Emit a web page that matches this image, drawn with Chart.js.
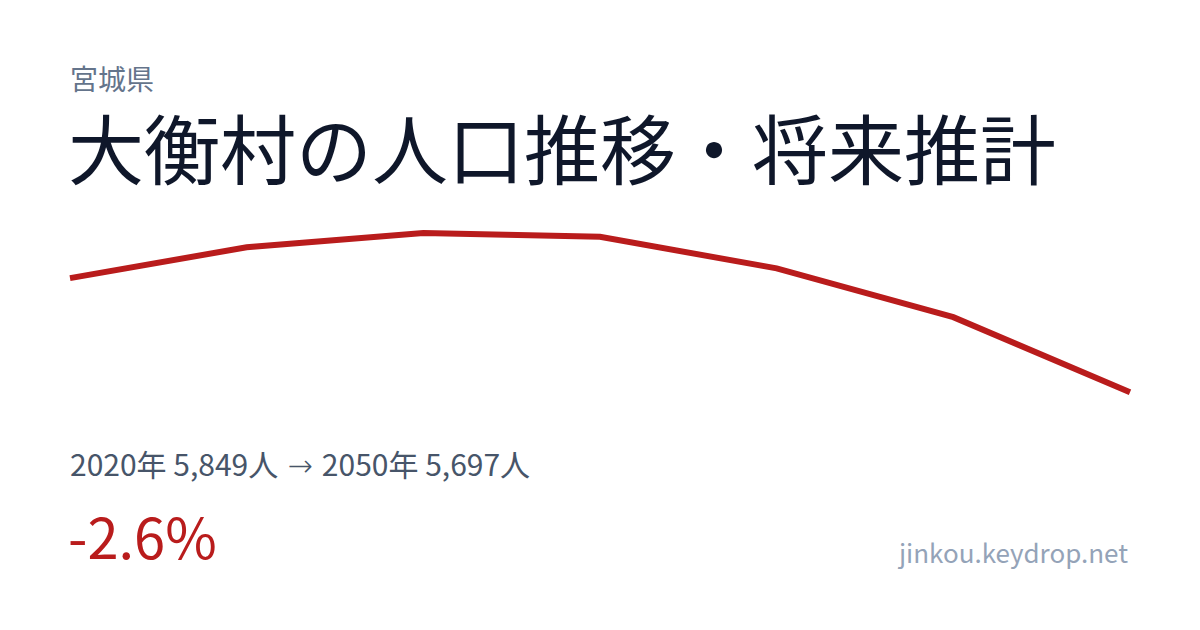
<!DOCTYPE html>
<html lang="ja">
<head>
<meta charset="utf-8">
<script src="https://cdn.jsdelivr.net/npm/chart.js@4/dist/chart.umd.min.js"></script>
<style>
  html, body { margin: 0; padding: 0; background: #ffffff; }
  body { width: 1200px; height: 630px; position: relative; overflow: hidden;
         font-family: "Noto Sans CJK JP", "Noto Sans", sans-serif; }
  .txt { position: absolute; line-height: 1; white-space: nowrap; }
  #pref { left: 70px; top: 64px; font-size: 28px; color: #64748b; }
  #title { left: 68px; top: 108px; font-size: 76px; color: #0f172a; }
  #summary { left: 70px; top: 448px; font-size: 30px; color: #475569; }
  #summary .arrow { font-family: "Noto Sans", "DejaVu Sans", sans-serif; font-weight: 300; margin: 0 2.5px; }
  #change { left: 68px; top: 507px; font-size: 56px; color: #b91c1c; }
  #site { right: 72px; top: 539px; font-size: 26px; color: #94a3b8; }
  #chartBox { position: absolute; left: 40px; top: 190px; width: 1120px; height: 240px; }
</style>
</head>
<body>
<div class="txt" id="pref">宮城県</div>
<div class="txt" id="title">大衡村の人口推移・将来推計</div>
<div class="txt" id="summary">2020年 5,849人 <span class="arrow">→</span> 2050年 5,697人</div>
<div class="txt" id="change">-2.6%</div>
<div class="txt" id="site">jinkou.keydrop.net</div>
<div id="chartBox"><canvas id="chart"></canvas></div>

<script>
// 国勢調査・将来推計の年次
const years = ['2020', '2025', '2030', '2035', '2040', '2045', '2050'];
// 人口（画像から読み取った概算値）
const population = [5849, 5890, 5909, 5904, 5862, 5797, 5697];

const lineColor = '#b91c1c';

const ctx = document.getElementById('chart').getContext('2d');

const config = {
    type: 'line',
    data: {
        labels: years,
        datasets: [{
            label: '人口',
            data: population,
            borderColor: lineColor,
            backgroundColor: lineColor,
            borderWidth: 6,
            pointRadius: 0,
            tension: 0,
            fill: false
        }]
    },
    options: {
        responsive: true,
        maintainAspectRatio: false,
        animation: false,
        layout: {
            padding: { left: 30, right: 30, top: 10, bottom: 10 }
        },
        plugins: {
            legend: { display: false },
            tooltip: { enabled: false }
        },
        scales: {
            x: { display: false },
            y: {
                display: false,
                min: 5660,
                max: 5953
            }
        }
    }
};

new Chart(ctx, config);
</script>
</body>
</html>
